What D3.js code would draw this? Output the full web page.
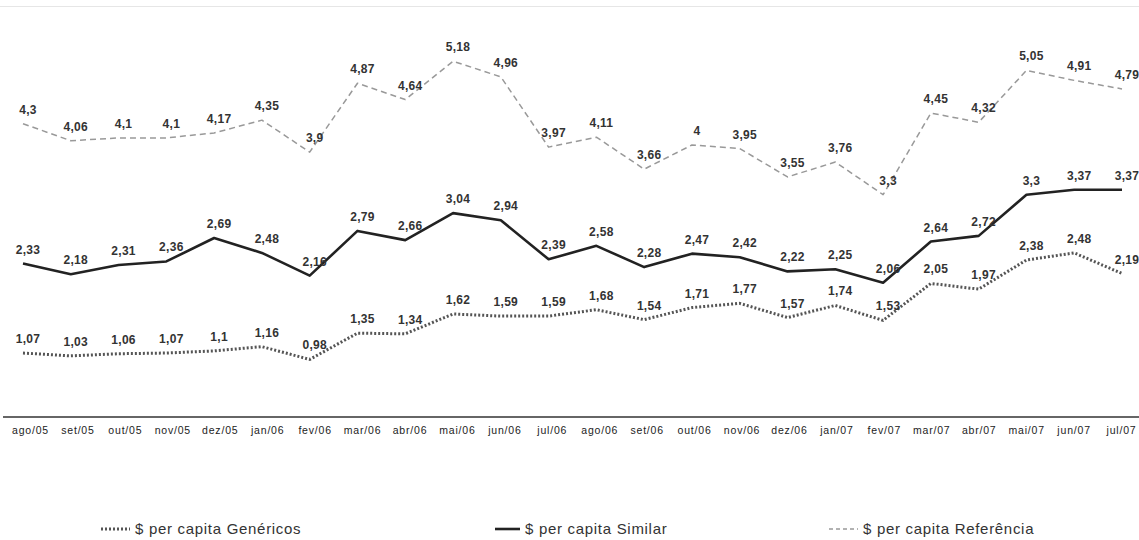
<!DOCTYPE html>
<html>
<head>
<meta charset="utf-8">
<script src="https://cdn.jsdelivr.net/npm/d3@7/dist/d3.min.js"></script>
<style>
  html, body { margin: 0; padding: 0; background: #fff; }
  svg { display: block; }
</style>
</head>
<body>
<svg id="chart" width="1139" height="540"></svg>
<script>
// Monthly labels, Aug 2005 – Jul 2007
const months = ["ago/05","set/05","out/05","nov/05","dez/05","jan/06","fev/06","mar/06",
  "abr/06","mai/06","jun/06","jul/06","ago/06","set/06","out/06","nov/06","dez/06",
  "jan/07","fev/07","mar/07","abr/07","mai/07","jun/07","jul/07"];

// $ per capita by product type
const genericos = [1.07,1.03,1.06,1.07,1.1,1.16,0.98,1.35,1.34,1.62,1.59,1.59,1.68,1.54,
  1.71,1.77,1.57,1.74,1.53,2.05,1.97,2.38,2.48,2.19];
const similar = [2.33,2.18,2.31,2.36,2.69,2.48,2.16,2.79,2.66,3.04,2.94,2.39,2.58,2.28,
  2.47,2.42,2.22,2.25,2.06,2.64,2.72,3.3,3.37,3.37];
const referencia = [4.3,4.06,4.1,4.1,4.17,4.35,3.9,4.87,4.64,5.18,4.96,3.97,4.11,3.66,
  4,3.95,3.55,3.76,3.3,4.45,4.32,5.05,4.91,4.79];

const seriesNames = ["$ per capita Genéricos", "$ per capita Similar", "$ per capita Referência"];

const svg = d3.select("#chart");
const W = 1139, H = 540;

// points and the category labels sit on slightly different grids
const x = d3.scalePoint().domain(months).range([23, 1122]);
const xLabel = d3.scalePoint().domain(months).range([30, 1121]);
const y = d3.scaleLinear().domain([0, 6]).range([429, 3]);

const fmt = v => String(v).replace(".", ",");

// faint frame line at the top
svg.append("line").attr("x1", 0).attr("x2", W).attr("y1", 6.5).attr("y2", 6.5)
  .attr("stroke", "#e6e6e6").attr("stroke-width", 1);

// category axis
const axisG = svg.append("g").attr("transform", "translate(0,417)");
axisG.call(d3.axisBottom(xLabel).tickSize(0).tickPadding(10));
axisG.select(".domain").remove();
axisG.append("line").attr("x1", 3).attr("x2", W).attr("stroke", "#333").attr("stroke-width", 1.3);
axisG.selectAll(".tick text")
  .attr("font-family", "Liberation Sans, Arial, sans-serif")
  .attr("font-size", 10.5)
  .attr("letter-spacing", 0.8)
  .attr("fill", "#222");

const styles = [
  { data: genericos, stroke: "#555", width: 3, dash: "2,2" },
  { data: similar, stroke: "#222", width: 2.6, dash: null },
  { data: referencia, stroke: "#999", width: 1.5, dash: "6,4" }
];

const line = d3.line().x((d, i) => x(months[i])).y(d => y(d));

styles.forEach(s => {
  svg.append("path")
    .datum(s.data)
    .attr("d", line)
    .attr("fill", "none")
    .attr("stroke", s.stroke)
    .attr("stroke-width", s.width)
    .attr("stroke-dasharray", s.dash)
    .attr("stroke-linejoin", "round");

  svg.append("g").selectAll("text")
    .data(s.data)
    .join("text")
    .attr("x", (d, i) => x(months[i]) + 5)
    .attr("y", d => y(d) - 10)
    .attr("text-anchor", "middle")
    .attr("font-family", "Liberation Sans, Arial, sans-serif")
    .attr("font-weight", "bold")
    .attr("font-size", 12)
    .attr("letter-spacing", 0.3)
    .attr("fill", "#333")
    .text(d => fmt(d));
});

// legend
const legendX = [101, 495, 829];
const legend = svg.append("g").attr("transform", "translate(0,530)");
styles.forEach((s, i) => {
  const g = legend.append("g").attr("transform", `translate(${legendX[i]},0)`);
  g.append("line").attr("x1", 0).attr("x2", i === 1 ? 25 : 29).attr("y1", -1).attr("y2", -1)
    .attr("stroke", s.stroke).attr("stroke-width", s.width)
    .attr("stroke-dasharray", s.dash ? (i === 0 ? "2,2" : "4,3") : null);
  g.append("text").attr("x", i === 1 ? 30 : 34).attr("y", 4)
    .attr("font-family", "Liberation Sans, Arial, sans-serif")
    .attr("font-size", 15)
    .attr("letter-spacing", 0.7)
    .attr("fill", "#333")
    .text(seriesNames[i]);
});
</script>
</body>
</html>
